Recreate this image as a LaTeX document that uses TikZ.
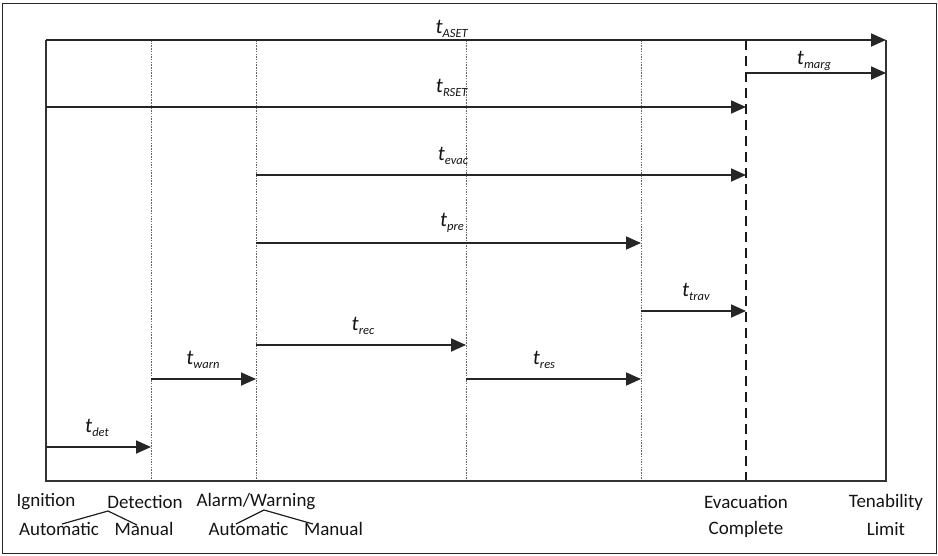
\documentclass[tikz,border=0pt]{standalone}
\usepackage{fontspec}
\setmainfont{Carlito}
\usetikzlibrary{arrows.meta}
\newcommand{\tlab}[1]{\textit{t}\raisebox{-0.45ex}{\fontsize{12.5}{12.5}\selectfont\textit{#1}}}
\begin{document}
\begin{tikzpicture}[x=1pt,y=-1pt,
 tarrow/.style={line width=1.8pt, draw=black!85, -{Triangle[length=15pt,width=13pt]}},
 guide/.style={dash pattern=on 1.5pt off 1.2pt, line width=1pt, draw=black!60},
 axis/.style={line width=1.6pt, draw=black!80},
 evacline/.style={line width=2.6pt, draw=black!90, dash pattern=on 10pt off 6pt},
 txt/.style={font=\fontsize{19}{22}\selectfont, inner sep=0pt, text=black!92},
 tl/.style={font=\fontsize{21}{24}\selectfont, inner sep=0pt, text=black!92},
 brace/.style={line width=1.2pt, draw=black!88}]
\useasboundingbox (0,0) rectangle (938,555);
\draw[line width=1pt, black!85] (2.5,3.5) rectangle (936,553.5);
% frame coordinates
\coordinate (TL) at (46,40);
\coordinate (BL) at (46,481);
\coordinate (TR) at (886,40);
\coordinate (BR) at (886,481);
\foreach \n/\x in {d/151,w/256,r/466,p/641}{
  \coordinate (\n top) at (\x,40);
  \coordinate (\n bot) at (\x,481);
  \draw[guide] (\n top) -- (\n bot);
}
\coordinate (etop) at (746,40);
\coordinate (ebot) at (746,481);
\draw[evacline] (etop) -- (ebot);
\draw[axis] (TL) -- (BL) -- (BR) -- (TR);
% arrows
\coordinate (aset0) at (46,40);   \coordinate (aset1) at (886,40);
\coordinate (marg0) at (746,73);  \coordinate (marg1) at (886,73);
\coordinate (rset0) at (46,107);  \coordinate (rset1) at (746,107);
\coordinate (evac0) at (256,175); \coordinate (evac1) at (746,175);
\coordinate (pre0) at (256,243);  \coordinate (pre1) at (641,243);
\coordinate (trav0) at (641,311); \coordinate (trav1) at (746,311);
\coordinate (rec0) at (256,345);  \coordinate (rec1) at (466,345);
\coordinate (res0) at (466,379);  \coordinate (res1) at (641,379);
\coordinate (warn0) at (151,379); \coordinate (warn1) at (256,379);
\coordinate (det0) at (46,447);   \coordinate (det1) at (151,447);
\foreach \n in {aset,marg,rset,evac,pre,trav,rec,res,warn,det}{
  \draw[tarrow] (\n0) -- (\n1);
}
% arrow labels
\node[tl] (Laset) at (452,29) {\tlab{ASET}};
\node[tl] (Lmarg) at (814,61) {\tlab{marg}};
\node[tl] (Lrset) at (452,88) {\tlab{RSET}};
\node[tl] (Levac) at (453,156) {\tlab{evac}};
\node[tl] (Lpre) at (452,223) {\tlab{pre}};
\node[tl] (Ltrav) at (696,292) {\tlab{trav}};
\node[tl] (Lrec) at (363,326) {\tlab{rec}};
\node[tl] (Lres) at (544,360) {\tlab{res}};
\node[tl] (Lwarn) at (203,360) {\tlab{warn}};
\node[tl] (Ldet) at (97,428) {\tlab{det}};
% bottom labels
\node[txt] (ign) at (46,502) {Ignition};
\node[txt] (detn) at (145,502) {Detection};
\node[txt] (alarm) at (256,502) {Alarm/Warning};
\node[txt] (auto1) at (59,529) {Automatic};
\node[txt] (man1) at (144,529) {Manual};
\node[txt] (auto2) at (248.5,529) {Automatic};
\node[txt] (man2) at (333.5,529) {Manual};
\node[txt] (evacn) at (746,502) {Evacuation};
\node[txt] (compl) at (746,529) {Complete};
\node[txt] (tenab) at (886,502) {Tenability};
\node[txt] (limit) at (886,529) {Limit};
% branching lines
\coordinate (d0) at (62,524);
\coordinate (d1) at (108,511);
\coordinate (d2) at (137,525);
\draw[brace] (d0) -- (d1) -- (d2);
\coordinate (a0) at (236,524);
\coordinate (a1) at (264,510);
\coordinate (a2) at (313,524);
\draw[brace] (a0) -- (a1) -- (a2);
\end{tikzpicture}
\end{document}
